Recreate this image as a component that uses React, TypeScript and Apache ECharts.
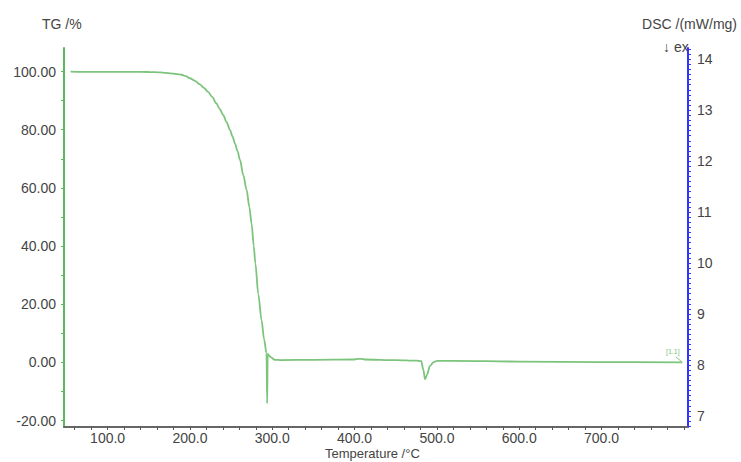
import React, { useEffect, useRef } from "react";
import * as echarts from "echarts";

// Temperature (°C) and TG (%)
const temperature = [
  55, 80, 100, 130, 150, 164, 176, 183, 190, 195, 200, 206, 212, 217, 222, 227, 232, 236, 240.5,
  244.5, 248.6, 251.7, 254.7, 257.8, 260.8, 264.8, 268.9, 272.1, 275, 277.5, 279.5, 283, 287, 290,
  293, 293.8, 294.4, 295.5, 298, 303, 310, 350, 400, 404, 408, 412, 450, 475, 481, 483.5, 485.5,
  488, 491.5, 496, 500, 520, 600, 700, 798,
];
const tgPercent = [
  100, 99.9, 99.9, 99.9, 99.85, 99.7, 99.4, 99.2, 98.9, 98.4, 97.7, 96.8, 95.6, 94.4, 93.0, 91.3,
  89.1, 87.2, 85.0, 82.6, 79.9, 77.7, 75.3, 72.6, 69.6, 64.4, 59.3, 53.5, 47.5, 40, 34, 23.5, 14.5,
  8.0, 3.2, -14.1, 3.0, 2.6, 1.8, 0.9, 0.8, 0.9, 1.0, 1.2, 1.2, 1.0, 0.8, 0.6, 0.4, -2.5, -5.8,
  -4.2, -1.2, 0.1, 0.5, 0.55, 0.3, 0.1, 0.0,
];

const xTickLabels = [100, 200, 300, 400, 500, 600, 700];
const tgTickLabels = [-20, 0, 20, 40, 60, 80, 100];
const dscTickLabels = [7, 8, 9, 10, 11, 12, 13, 14];

const xMinorTicks: number[] = [];
for (let v = 60; v <= 800; v += 20) xMinorTicks.push(v);
const tgMinorTicks: number[] = [];
for (let v = -20; v <= 100; v += 10) tgMinorTicks.push(v);
const dscMinorTicks: number[] = [];
for (let i = 68; i <= 142; i++) dscMinorTicks.push(i / 10);

const FONT = "Liberation Sans, Arial, sans-serif";
const LABEL = "#444";

export default function App() {
  const ref = useRef<HTMLDivElement>(null);
  useEffect(() => {
    const chart = echarts.init(ref.current!, null, { renderer: "svg" });
    chart.setOption({
      animation: false,
      backgroundColor: "#fff",
      grid: { left: 64, right: 53, top: 48, bottom: 35 },
      xAxis: {
        type: "value",
        min: 47,
        max: 805,
        axisLine: { show: true, onZero: false, lineStyle: { color: "#666", width: 2 } },
        axisTick: { show: true, customValues: xMinorTicks, length: 3, lineStyle: { color: "#555" } },
        axisLabel: {
          customValues: xTickLabels,
          formatter: (v: number) => v.toFixed(1),
          color: LABEL,
          fontSize: 14,
          fontFamily: FONT,
          margin: 4,
        },
        splitLine: { show: false },
      },
      yAxis: [
        {
          type: "value",
          position: "left",
          min: -22.2,
          max: 108.1,
          axisLine: { show: true, onZero: false, lineStyle: { color: "#5cb85c", width: 2 } },
          axisTick: { show: true, customValues: tgMinorTicks, length: 3, lineStyle: { color: "#5cb85c" } },
          axisLabel: {
            customValues: tgTickLabels,
            formatter: (v: number) => v.toFixed(2),
            color: LABEL,
            fontSize: 14,
            fontFamily: FONT,
            margin: 8,
          },
          splitLine: { show: false },
        },
        {
          type: "value",
          position: "right",
          min: 6.784,
          max: 14.22,
          axisLine: { show: true, onZero: false, lineStyle: { color: "#3333ff", width: 2 } },
          axisTick: { show: true, customValues: dscMinorTicks, length: 3, lineStyle: { color: "#3333ff" } },
          axisLabel: {
            customValues: dscTickLabels,
            formatter: (v: number) => String(v),
            color: LABEL,
            fontSize: 14,
            fontFamily: FONT,
            margin: 9,
          },
          splitLine: { show: false },
        },
      ],
      series: [
        {
          type: "line",
          yAxisIndex: 0,
          data: temperature.map((t, i) => [t, tgPercent[i]]),
          showSymbol: false,
          symbol: "none",
          smooth: 0.3,
          smoothMonotone: "x",
          lineStyle: { color: "#7cc47c", width: 1.8 },
        },
      ],
      graphic: [
        {
          type: "text",
          left: 42,
          top: 17,
          style: { text: "TG /%", fill: LABEL, font: `14px ${FONT}` },
        },
        {
          type: "text",
          right: 4,
          top: 17,
          style: { text: "DSC /(mW/mg)", fill: LABEL, font: `14px ${FONT}` },
        },
        {
          type: "text",
          left: 663,
          top: 40,
          style: { text: "↓ ex", fill: LABEL, font: `14px ${FONT}` },
        },
        {
          type: "text",
          left: 666,
          top: 348,
          style: { text: "[1.1]", fill: "#7cc47c", font: `7px ${FONT}` },
        },
        {
          type: "line",
          shape: { x1: 676, y1: 357, x2: 682, y2: 362 },
          style: { stroke: "#7cc47c", lineWidth: 1 },
        },
        {
          type: "text",
          left: 325,
          top: 447,
          style: { text: "Temperature /°C", fill: LABEL, font: `13px ${FONT}` },
        },
      ],
    });
    return () => chart.dispose();
  }, []);
  return (
    <div
      ref={ref}
      style={{ position: "fixed", left: 0, top: 0, width: 741, height: 462, background: "#fff" }}
    />
  );
}
